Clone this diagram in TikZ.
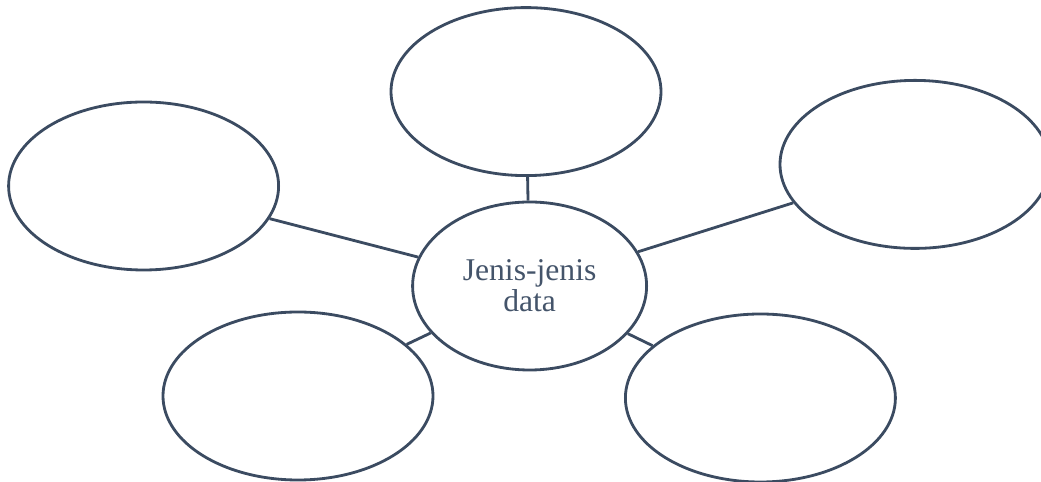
\documentclass[tikz,border=0pt]{standalone}
\usepackage{fontspec}
\setmainfont{Liberation Serif}
\usepackage{tikz}
\usetikzlibrary{shapes.geometric}

\definecolor{rim}{HTML}{3B4B61}
\definecolor{ink}{HTML}{44546A}

\begin{document}
\begin{tikzpicture}[
        bubble/.style = {ellipse, draw = rim, line width = 2pt, inner sep = 0pt,
                         minimum width = 6.75cm, minimum height = 4.2cm},
        hub/.style = {bubble, minimum width = 5.85cm, align = center,
                      text = ink, font = \fontsize{22.5}{22}\selectfont},
        spoke/.style = {draw = rim, line width = 2pt}]

        % Fixing the frame of the picture.
        \useasboundingbox (0.0, 0.0) rectangle (26.025, -12.05);

        % Place the centre bubble.
        \node[hub] (jenis) at (13.24, -7.15) {Jenis-jenis\\data};

        % Place the empty bubbles around it.
        \node[bubble] (atas) at (13.15, -2.29) {};
        \node[bubble] (kiri) at (3.59, -4.65) {};
        \node[bubble] (kanan) at (22.875, -4.11) {};
        \node[bubble] (kiribawah) at (7.45, -9.9) {};
        \node[bubble] (kananbawah) at (19.01, -9.95) {};

        % Join each bubble to the centre.
        \draw[spoke] (jenis) to (atas);
        \draw[spoke] (jenis) to (kiri);
        \draw[spoke] (jenis) to (kanan);
        \draw[spoke] (jenis) to (kiribawah);
        \draw[spoke] (jenis) to (kananbawah);
    \end{tikzpicture}
\end{document}
